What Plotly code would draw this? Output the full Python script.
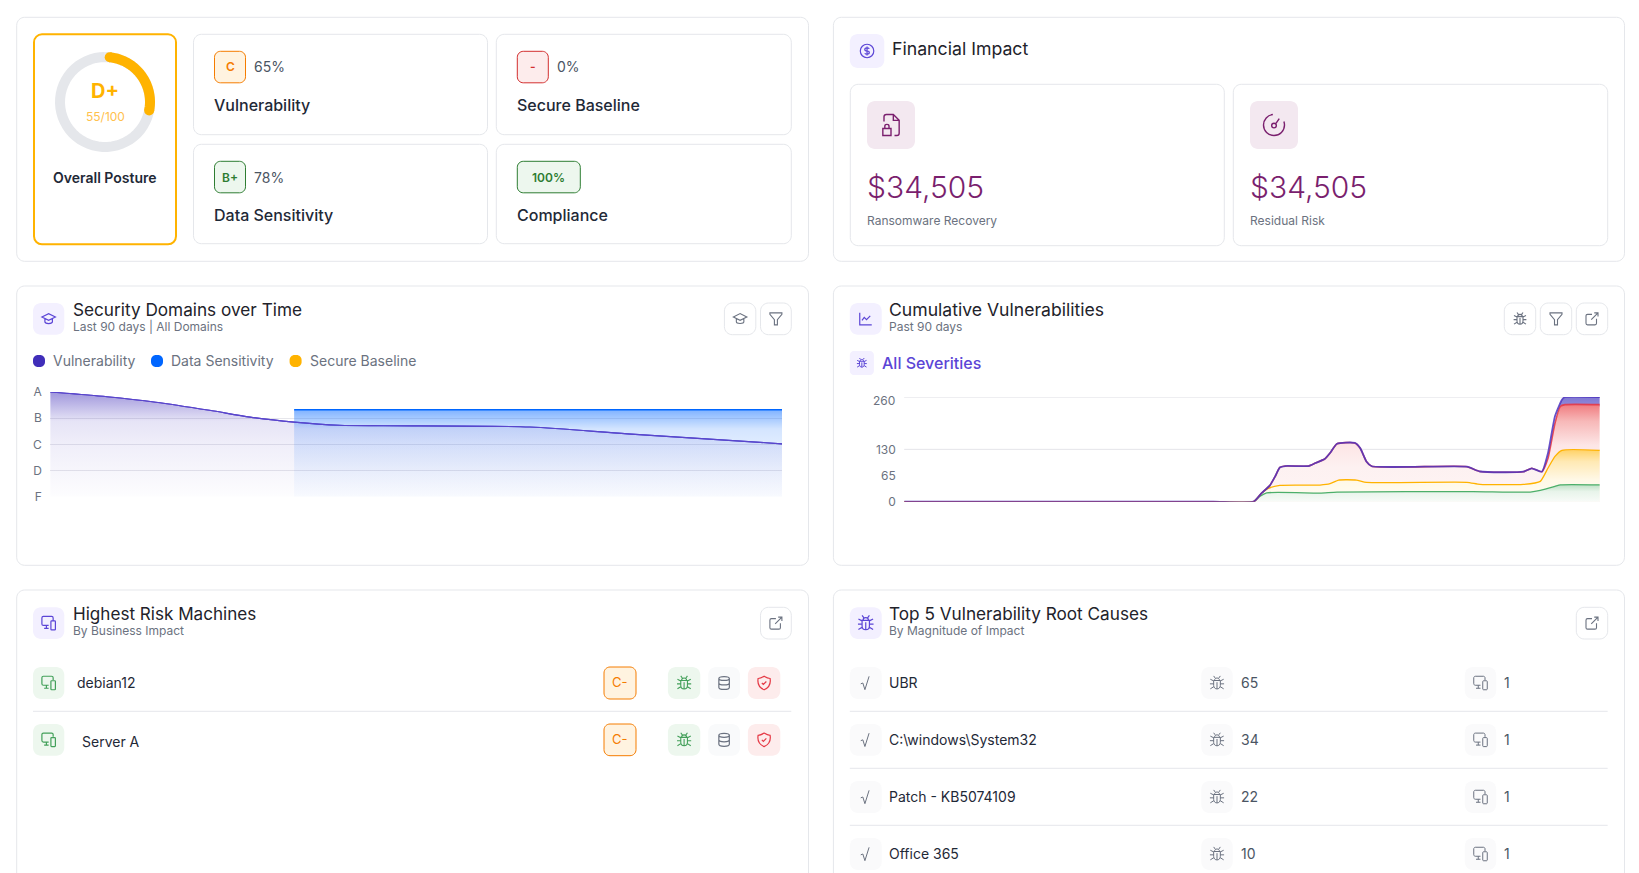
import re
import numpy as np
import plotly.graph_objects as go

W, H = 1639, 873

# ---------- data ----------
grade_labels = ["F", "D", "C", "B", "A"]
grade_vals = [0, 1, 2, 3, 4]

vuln_days = [0, 7, 13, 19.6, 24.6, 30, 35.6, 41, 59, 71, 90]
vuln_grade = [4.0, 3.82, 3.61, 3.3, 3.04, 2.85, 2.73, 2.71, 2.66, 2.4, 2.02]
sens_days = [30, 45, 60, 75, 90]
sens_grade = [3.32, 3.32, 3.32, 3.32, 3.32]

cum_ticks = [0, 65, 130]
cum_top_tick = 260
cum_grid = [0, 130, 260]

crit_days = [0, 10, 20, 30, 40, 45.2, 46.25, 47.3, 48, 48.6, 49.3, 52.3, 53.2, 54.4, 55.1, 56, 58.3, 59, 59.8, 60.5, 72.8, 74.5, 80.1, 81.2, 82.5, 83.3, 84.2, 85.1, 85.5, 90]
crit_vals = [0, 0, 0, 0, 0, 0, 21.5, 40, 63, 85, 88.6, 88.6, 96, 106, 121, 144, 146, 133, 100, 88, 87, 75, 74.5, 83, 74.5, 121, 212, 253, 260, 260]
high_days = [0, 10, 20, 30, 40, 45.2, 46.25, 47.3, 48, 48.6, 49.3, 52.3, 53.2, 54.4, 55.1, 56, 58.3, 59, 59.8, 60.5, 72.8, 74.5, 80.1, 81.2, 82.5, 83.3, 84.2, 84.9, 85.5, 90]
high_vals = [0, 0, 0, 0, 0, 0, 21.5, 40, 63, 85, 88.6, 88.6, 96, 106, 121, 144, 146, 133, 100, 88, 87, 75, 74.5, 83, 74.5, 108, 195, 237, 241, 241]
med_days = [0, 10, 20, 30, 40, 45.2, 46.25, 47.1, 48.6, 53.8, 55.1, 56.2, 58.5, 59.8, 72.8, 74.5, 80.1, 82.3, 83.3, 84.2, 85.1, 90]
med_vals = [0, 0, 0, 0, 0, 0, 21.5, 33, 40.6, 41.4, 44.7, 53.8, 53.8, 48, 48, 43, 43, 50.5, 83.6, 112.6, 127.5, 127.5]
low_days = [0, 10, 20, 30, 40, 45.2, 46, 46.9, 53.8, 56, 73.6, 81, 82.3, 84.2, 84.9, 90]
low_vals = [0, 0, 0, 0, 0, 0, 13, 22, 21.5, 24, 25, 24, 28, 38, 42, 42]

score_cards = ["Vulnerability", "Secure Baseline", "Data Sensitivity", "Compliance"]
score_grades = ["C", "-", "B+", "100%"]
score_pcts = ["65%", "0%", "78%", ""]
finance_labels = ["Ransomware Recovery", "Residual Risk"]
finance_values = ["$34,505", "$34,505"]
machines = ["debian12", "Server A"]
machine_grades = ["C-", "C-"]
root_causes = ["UBR", "C:\\windows\\System32", "Patch - KB5074109", "Office 365"]
root_counts = [65, 34, 22, 10]
root_machines = [1, 1, 1, 1]
legend_names = ["Vulnerability", "Data Sensitivity", "Secure Baseline"]

# ---------- colours ----------
INK = "#1f2937"
DARK = "#22222a"
GREY = "#6b7280"
BORDER = "#e5e7eb"
AMBER = "#ffb300"
PURPLE = "#5b45d6"
ORANGE = "#f57c00"
GREEN = "#43a05a"
RED = "#e53945"
WINE = "#7a1f6e"
FONT = "Inter"

shapes, annos = [], []


def px(x):
    return x / W


def py(y):
    return 1 - y / H


def rrect(x0, y0, x1, y1, r=8, fill="white", line=BORDER, lw=1):
    k = 0.45 * r
    X0, X1 = x0, x1
    p = (
        f"M{px(X0 + r)},{py(y0)} L{px(X1 - r)},{py(y0)} "
        f"C{px(X1 - k)},{py(y0)} {px(X1)},{py(y0 + k)} {px(X1)},{py(y0 + r)} "
        f"L{px(X1)},{py(y1 - r)} "
        f"C{px(X1)},{py(y1 - k)} {px(X1 - k)},{py(y1)} {px(X1 - r)},{py(y1)} "
        f"L{px(X0 + r)},{py(y1)} "
        f"C{px(X0 + k)},{py(y1)} {px(X0)},{py(y1 - k)} {px(X0)},{py(y1 - r)} "
        f"L{px(X0)},{py(y0 + r)} "
        f"C{px(X0)},{py(y0 + k)} {px(X0 + k)},{py(y0)} {px(X0 + r)},{py(y0)} Z"
    )
    shapes.append(dict(type="path", xref="paper", yref="paper", path=p, fillcolor=fill,
                       line=dict(color=line if line else "rgba(0,0,0,0)", width=lw if line else 0),
                       layer="below"))


def hline(x0, x1, y, color=BORDER, lw=1):
    shapes.append(dict(type="line", xref="paper", yref="paper", x0=px(x0), x1=px(x1), y0=py(y), y1=py(y),
                       line=dict(color=color, width=lw), layer="below"))


def text(x, y, s, size=14, color=INK, weight=400, anchor="left"):
    annos.append(dict(xref="paper", yref="paper", x=px(x - 1.2 if anchor == "left" else x), y=py(y - 0.6),
                      text=s, showarrow=False, xanchor=anchor, yanchor="middle", borderpad=0,
                      font=dict(family=FONT, size=size, color=color, weight=weight)))


ICONS = {
    "coin": "M21 12 C21 17 17 21 12 21 C7 21 3 17 3 12 C3 7 7 3 12 3 C17 3 21 7 21 12 Z M15 9 C14.6 8.3 13.6 7.8 12 7.8 C10 7.8 9 8.8 9 10 C9 11.5 10.5 12 12 12 C13.5 12 15 12.5 15 14 C15 15.2 14 16.2 12 16.2 C10.4 16.2 9.4 15.7 9 15 M12 6 L12 18",
    "filelock": "M6 9 L6 5 C6 4 7 3 8 3 L14 3 L19 8 L19 19 C19 20 18 21 17 21 L15 21 M14 3 L14 8 L19 8 M5 15 L12 15 L12 21 L5 21 Z M6.7 15 L6.7 13 C6.7 11 10.3 11 10.3 13 L10.3 15",
    "gauge": "M11 3 C6.5 3.5 3 7.3 3 12 C3 17 7 21 12 21 C17 21 21 17 21 12 C21 11 20.8 10 20.5 9 M10 12.5 C10 11.4 10.9 10.5 12 10.5 C13.1 10.5 14 11.4 14 12.5 C14 13.6 13.1 14.5 12 14.5 C10.9 14.5 10 13.6 10 12.5 Z M13.4 11 L16.5 6.5",
    "cap": "M3 9.5 L12 5 L21 9.5 L12 14 Z M7 11.5 L7 16 C7 19 17 19 17 16 L17 11.5",
    "filter": "M4 4 L20 4 L20 6 L14 13 L14 20 L10 20 L10 13 L4 6 Z",
    "chart": "M4 4 L4 20 L20 20 M7 14 L10 10 L13 13 L18 8",
    "link": "M12 6 L6 6 C5 6 4 7 4 8 L4 18 C4 19 5 20 6 20 L16 20 C17 20 18 19 18 18 L18 12 M11 13 L20 4 M15 4 L20 4 L20 9",
    "devices": "M12 15 L5 15 C4 15 3 14 3 13 L3 5 C3 4 4 3 5 3 L16 3 C17 3 18 4 18 5 L18 8 M6 19 L12 19 M9 15 L9 19 M15 10 C15 9.4 15.4 9 16 9 L20 9 C20.6 9 21 9.4 21 10 L21 20 C21 20.6 20.6 21 20 21 L16 21 C15.4 21 15 20.6 15 20 Z",
    "bug": "M8 9 L16 9 L16 15 C16 20.5 8 20.5 8 15 Z M9 9 C9 5 15 5 15 9 M9.8 6 L8 3.5 M14.2 6 L16 3.5 M12 11 L12 19 M8 9.5 L4 7.5 M16 9.5 L20 7.5 M8 13 L3.5 13 M16 13 L20.5 13 M8 16.5 L4 19 M16 16.5 L20 19",
    "db": "M5 6 C5 2.5 19 2.5 19 6 C19 9.5 5 9.5 5 6 Z M5 6 L5 18 C5 21.5 19 21.5 19 18 L19 6 M5 12 C5 15.5 19 15.5 19 12",
    "shield": "M12 3 C15 5 17 6 20 6 C21 12 19 18 12 21 C5 18 3 12 4 6 C7 6 9 5 12 3 Z M9 12 L11 14 L15 10",
    "sqrt": "M6 13 L8.5 12 L11 20 L16 4",
}


def icon(name, cx, cy, size=20, color=GREY, lw=1.2):
    s = size / 24.0
    tokens = re.findall(r"[MLCZ]|-?\d+\.?\d*", ICONS[name])
    out, coord = [], []
    for t in tokens:
        if t in "MLCZ":
            out.append(t)
        else:
            coord.append(float(t))
            if len(coord) == 2:
                out.append(f"{px(cx + (coord[0] - 12) * s)},{py(cy + (coord[1] - 12) * s)}")
                coord = []
    shapes.append(dict(type="path", xref="paper", yref="paper", path=" ".join(out),
                       line=dict(color=color, width=lw), fillcolor="rgba(0,0,0,0)", layer="below"))


def tile(x0, y0, x1, y1, name, fill, color, size=20, r=8, lw=1.2):
    rrect(x0, y0, x1, y1, r=r, fill=fill, line=None)
    icon(name, (x0 + x1) / 2, (y0 + y1) / 2, size=size, color=color, lw=lw)


def button(x0, y0, x1, y1, name):
    rrect(x0, y0, x1, y1, r=8, fill="white", line=BORDER)
    icon(name, (x0 + x1) / 2, (y0 + y1) / 2, size=18, color=GREY, lw=1.1)


def arc(cx, cy, r, a0, a1, color, lw):
    t = np.radians(np.linspace(a0, a1, 60))
    pts = [f"{px(cx + r * np.sin(a))},{py(cy - r * np.cos(a))}" for a in t]
    shapes.append(dict(type="path", xref="paper", yref="paper", path="M" + " L".join(pts),
                       line=dict(color=color, width=lw), fillcolor="rgba(0,0,0,0)", layer="below"))


def dot(cx, cy, r, color):
    shapes.append(dict(type="circle", xref="paper", yref="paper", x0=px(cx - r), x1=px(cx + r),
                       y0=py(cy + r), y1=py(cy - r), fillcolor=color, line=dict(width=0), layer="below"))


# ---------- card outlines ----------
LX0, LX1, RX0, RX1 = 16.7, 808.5, 833.4, 1624.5
rrect(LX0, 17.3, LX1, 261.3)
rrect(RX0, 17.3, RX1, 261.3)
rrect(LX0, 286, LX1, 565.3)
rrect(RX0, 286, RX1, 565.3)
rrect(LX0, 590, LX1, 920)
rrect(RX0, 590, RX1, 920)

# ---------- posture ----------
rrect(34, 34.3, 176, 244.3, r=8, fill="white", line=AMBER, lw=2)
arc(105, 102, 45, 0, 360, "#e5e7eb", 10)
arc(105, 102, 45, 6, 101, AMBER, 10)
dot(105 + 45 * np.sin(np.radians(6)), 102 - 45 * np.cos(np.radians(6)), 5, AMBER)
dot(105 + 45 * np.sin(np.radians(101)), 102 - 45 * np.cos(np.radians(101)), 5, AMBER)
text(105, 91.7, "D+", size=20, color=AMBER, weight=700, anchor="center")
text(105, 116.7, "55/100", size=12, color="#ffc14d", anchor="center")
text(105, 178, "Overall Posture", size=14, color=INK, weight=600, anchor="center")

score_style = [
    (ORANGE, "#fff3e0"), ("#d32f2f", "#fdecec"), ("#2e7d32", "#edf7ee"), ("#2e7d32", "#edf7ee"),
]
card_x = [(193.5, 487.5), (496.3, 791.3), (193.5, 487.5), (496.3, 791.3)]
card_y = [(34.3, 134.7), (34.3, 134.7), (144.3, 243.7), (144.3, 243.7)]
for i in range(4):
    x0, x1 = card_x[i]
    y0, y1 = card_y[i]
    rrect(x0, y0, x1, y1, r=8)
    bx0 = x0 + 21
    bx1 = bx0 + (63 if score_grades[i] == "100%" else 31)
    rrect(bx0, y0 + 17, bx1, y0 + 48.5, r=6, fill=score_style[i][1], line=score_style[i][0])
    text((bx0 + bx1) / 2, y0 + 33.3, score_grades[i], size=12, color=score_style[i][0], weight=600, anchor="center")
    if score_pcts[i]:
        text(bx1 + 8.5, y0 + 33.3, score_pcts[i], size=14, color="#4b5563")
    text(bx0, y0 + 71.6, score_cards[i], size=16, color=INK, weight=500)

# ---------- financial ----------
tile(849.8, 34, 884.3, 68, "coin", "#f3f0ff", PURPLE, size=18)
text(891.7, 49, "Financial Impact", size=17.7, color=DARK, weight=400)
for (x0, x1), nm, val, lab in zip([(850.3, 1224.3), (1233.3, 1607.7)], ["filelock", "gauge"], finance_values, finance_labels):
    rrect(x0, 84.3, x1, 245.7, r=8)
    tile(x0 + 16.7, 101, x0 + 64.7, 149, nm, "#f3e8f0", WINE, size=28, lw=1.4)
    text(x0 + 16.7, 187.3, val, size=30, color=WINE, weight=300)
    text(x0 + 16.7, 221, lab, size=12, color=GREY)

# ---------- security domains header ----------
tile(33, 303, 64.3, 334.7, "cap", "#f3f0ff", PURPLE, size=18)
text(73.2, 310, "Security Domains over Time", size=17.2, color=DARK, weight=400)
text(73.2, 327, "Last 90 days | All Domains", size=12, color=GREY)
button(724.4, 303, 755.8, 334.7, "cap")
button(760.5, 303, 791.3, 334.7, "filter")
for lx, tx, col, name in zip([33, 151, 289.6], [53.3, 171.5, 310], ["#402eb9", "#0066ff", AMBER], legend_names):
    rrect(lx, 355, lx + 12, 367, r=5, fill=col, line=None)
    text(tx, 361, name, size=14, color=GREY)

# ---------- cumulative header ----------
tile(849.8, 303, 881.7, 334.7, "chart", "#f3f0ff", PURPLE, size=18)
text(889.6, 310.2, "Cumulative Vulnerabilities", size=17.6, color=DARK, weight=400)
text(889.6, 326.6, "Past 90 days", size=12, color=GREY)
button(1504.3, 303, 1535.7, 334.7, "bug")
button(1540.3, 303, 1571.7, 334.7, "filter")
button(1576.3, 303, 1607.7, 334.7, "link")
tile(849.8, 351, 873.9, 375, "bug", "#f3f0ff", PURPLE, size=14, r=4, lw=1.0)
text(882.2, 363.6, "All Severities", size=16, color=PURPLE, weight=500)

# ---------- machines ----------
tile(33, 607.3, 64.3, 639, "devices", "#f3f0ff", PURPLE, size=18)
text(73.2, 614.3, "Highest Risk Machines", size=17.1, color=DARK, weight=400)
text(73.2, 630.6, "By Business Impact", size=12, color=GREY)
button(760.5, 607.3, 791.3, 639, "link")
for name, g, (y0, y1), tx, ty in zip(machines, machine_grades, [(667, 699), (724, 755.7)], [76.9, 82.1], [683.3, 742]):
    tile(33, y0, 64.3, y1, "devices", "#edf7ee", GREEN, size=18)
    text(tx, ty, name, size=14, color=INK)
    rrect(604, y0, 636, y1, r=6, fill="#fff3e0", line=ORANGE)
    text(619.5, (y0 + y1) / 2, g, size=13, color=ORANGE, anchor="center")
    tile(667.9, y0, 700.3, y1, "bug", "#edf7ee", GREEN, size=20, lw=1.1)
    tile(708.2, y0, 740, y1, "db", "#f9fafb", GREY, size=18)
    tile(747.9, y0, 780.3, y1, "shield", "#fdecec", RED, size=18)
hline(33, 791.3, 711.3)

# ---------- root causes ----------
tile(849.8, 607.3, 881.7, 639, "bug", "#f3f0ff", PURPLE, size=22)
text(889.6, 614.3, "Top 5 Vulnerability Root Causes", size=17.2, color=DARK, weight=400)
text(889.6, 630.6, "By Magnitude of Impact", size=12, color=GREY)
button(1576.3, 607.3, 1607.7, 639, "link")
for name, cnt, mach, (y0, y1) in zip(root_causes, root_counts, root_machines,
                                      [(667, 699), (724, 755.7), (781, 813), (838, 870)]):
    cy = (y0 + y1) / 2
    tile(849.8, y0, 881.7, y1, "sqrt", "#fafafb", GREY, size=20, lw=1.0)
    text(889.6, cy, name, size=14, color=INK)
    tile(1201.3, y0, 1232.7, y1, "bug", "#fafafb", GREY, size=20, lw=1.0)
    text(1241, cy, str(cnt), size=14, color="#4b5563")
    tile(1464.8, y0, 1496.2, y1, "devices", "#fafafb", GREY, size=18, lw=1.0)
    text(1504.5, cy, str(mach), size=14, color="#4b5563")
for y in [711.3, 768.3, 825.3]:
    hline(849.8, 1607.7, y)

# ---------- traces ----------
fig = go.Figure()


def grad(stops):
    return dict(type="vertical", colorscale=[[p, c] for p, c in stops])


def a(rgb, stops):
    return grad([(p, f"rgba({rgb},{al})") for p, al in stops])


fig.add_trace(go.Scatter(x=vuln_days, y=vuln_grade, mode="lines", name="Vulnerability",
                         line=dict(color="#4a35c4", width=1.1, shape="spline", smoothing=0.8),
                         fill="tozeroy",
                         fillgradient=a("64,46,185", [(0, 0.01), (0.5, 0.08), (0.72, 0.13), (0.85, 0.3), (1, 0.5)]),
                         xaxis="x", yaxis="y", hoverinfo="skip"))
fig.add_trace(go.Scatter(x=sens_days, y=sens_grade, mode="lines", name="Data Sensitivity",
                         line=dict(color="#0066ff", width=1.5),
                         fill="tozeroy",
                         fillgradient=a("0,102,255", [(0, 0.02), (0.3, 0.06), (0.6, 0.12), (0.78, 0.17), (0.9, 0.35), (1, 0.5)]),
                         xaxis="x", yaxis="y", hoverinfo="skip"))
# the vulnerability line shows through the blue area
fig.add_trace(go.Scatter(x=vuln_days, y=vuln_grade, mode="lines", showlegend=False,
                         line=dict(color="#5a46cc", width=1.1, shape="spline", smoothing=0.8),
                         xaxis="x", yaxis="y", hoverinfo="skip"))

# fill colour ramps, bottom of each area to its top
crit_fill = [(0, "rgba(64,46,185,0)"), (0.9, "rgba(64,46,185,0)"), (0.925, "#8f88d8"), (1, "#7f76d2")]
high_fill = [(0, "rgba(255,244,244,1)"), (0.35, "#fdf1f1"), (0.58, "#fde6e6"), (0.83, "#f7b8b8"), (1, "#f07c80")]
med_fill = [(0, "#fffdf6"), (0.43, "#fff8e6"), (0.78, "#ffe9b4"), (1, "#ffd36a")]
low_fill = [(0, "#f8fbf8"), (0.6, "#e8f4ea"), (1, "#bfe0c6")]

cum = [
    ("Critical", crit_days, crit_vals, crit_fill, "rgba(75,50,190,0.85)", 1.8),
    ("High", high_days, high_vals, high_fill, "rgba(229,57,70,0.9)", 1.6),
    ("Medium", med_days, med_vals, med_fill, AMBER, 1.3),
    ("Low", low_days, low_vals, low_fill, "#4caf6a", 1.3),
]
for name, dx, dy, stops, _, _w in cum:
    fig.add_trace(go.Scatter(x=dx, y=dy, mode="none", name=name, fill="tozeroy",
                             fillgradient=grad(stops), xaxis="x2", yaxis="y2", hoverinfo="skip"))
for name, dx, dy, stops, col, lw in reversed(cum):
    fig.add_trace(go.Scatter(x=dx, y=dy, mode="lines", name=name, showlegend=False, cliponaxis=False,
                             line=dict(color=col, width=lw, shape="spline", smoothing=0.5),
                             xaxis="x2", yaxis="y2", hoverinfo="skip"))

for v in cum_grid:
    edge = v in (0, 260)
    shapes.append(dict(type="line", xref="x2 domain", yref="y2", x0=0, x1=1, y0=v, y1=v, layer="below",
                       line=dict(color="#eeeef1" if edge else "#e4e4e9", width=2 if edge else 1)))

annos.append(dict(xref="paper", yref="y2", x=px(897), y=cum_top_tick, yshift=-4, text=str(cum_top_tick),
                  showarrow=False, xanchor="right", yanchor="middle",
                  font=dict(family=FONT, size=12, color=GREY)))

fig.update_layout(
    width=W, height=H, margin=dict(l=0, r=0, t=0, b=0, pad=0), autosize=False,
    paper_bgcolor="white", plot_bgcolor="rgba(0,0,0,0)", showlegend=False, hovermode=False,
    shapes=shapes, annotations=annos,
    xaxis=dict(domain=[px(50.2), px(782)], range=[0, 90], visible=False, fixedrange=True, automargin=False),
    yaxis=dict(domain=[py(496.7), py(392)], range=[0, 4], tickvals=grade_vals, ticktext=grade_labels,
               showgrid=True, gridcolor="#e6e6eb", gridwidth=1, zeroline=False, showline=False, automargin=False,
               ticks="outside", ticklen=5, tickcolor="rgba(0,0,0,0)", fixedrange=True,
               tickfont=dict(family=FONT, size=12, color=GREY)),
    xaxis2=dict(domain=[px(904.2), px(1599.8)], range=[0, 90], visible=False, fixedrange=True, anchor="y2",
                automargin=False),
    yaxis2=dict(domain=[py(501.7), py(397)], range=[0, 260], tickvals=cum_ticks, showgrid=False, zeroline=False,
                showline=False, ticks="outside", ticklen=5, tickcolor="rgba(0,0,0,0)", fixedrange=True,
                anchor="x2", automargin=False, tickfont=dict(family=FONT, size=12, color=GREY)),
)

fig.write_html("out.html", config=dict(displayModeBar=False, staticPlot=True),
               post_script="document.body.style.margin='0';document.body.style.overflow='hidden';")
